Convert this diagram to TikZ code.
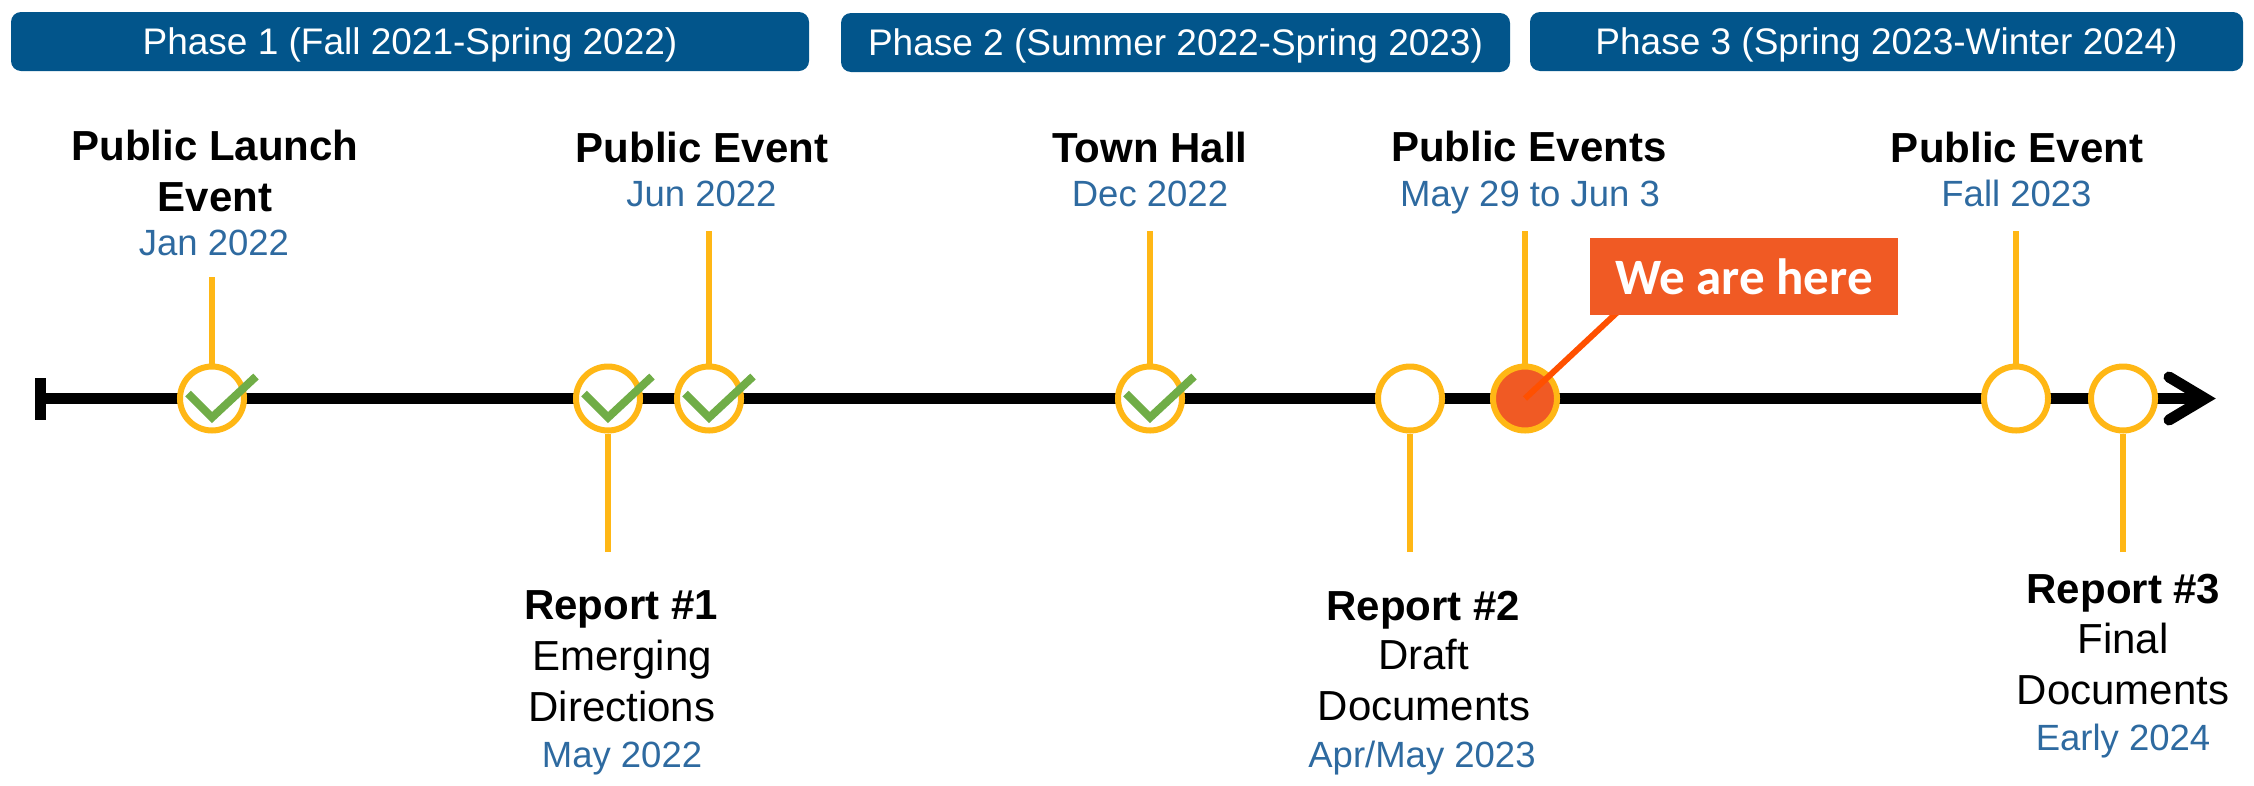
\documentclass[tikz,border=0pt]{standalone}
\usepackage{fontspec}
\setmainfont{Liberation Sans}
\newfontfamily\calibfont{Carlito}
\usetikzlibrary{calc}
\definecolor{phaseblue}{RGB}{2,85,139}
\definecolor{dateblue}{RGB}{46,106,160}
\definecolor{ringyellow}{RGB}{255,183,21}
\definecolor{checkgreen}{RGB}{112,173,71}
\definecolor{hereorange}{RGB}{240,90,36}
\definecolor{pointred}{RGB}{255,80,0}
\begin{document}
\begin{tikzpicture}[x=1pt,y=-1pt,
  phase/.style={fill=phaseblue, rounded corners=10pt, inner sep=0pt, text=white,
    font=\fontsize{37}{37}\selectfont, text height=26.5pt, text depth=0pt, minimum height=59pt},
  ttl/.style={anchor=base, inner sep=0pt, font=\fontsize{42}{42}\selectfont\bfseries},
  body/.style={anchor=base, inner sep=0pt, font=\fontsize{42}{42}\selectfont},
  date/.style={anchor=base, inner sep=0pt, text=dateblue, font=\fontsize{36.5}{36.5}\selectfont},
  mile/.style={circle, draw=ringyellow, line width=6pt, fill=white, minimum size=64pt, inner sep=0pt},
  stem/.style={draw=ringyellow, line width=5.5pt},
  tick/.style={draw=checkgreen, line width=8pt, line cap=butt, line join=miter},
  axis/.style={draw=black, line width=11pt},
]
\useasboundingbox (0,0) rectangle (2254,785);

% phase banners
\node[phase, minimum width=798pt] (p1) at (410,41.5) {Phase 1 (Fall 2021-Spring 2022)};
\node[phase, minimum width=669pt] (p2) at (1175.5,42.5) {Phase 2 (Summer 2022-Spring 2023)};
\node[phase, minimum width=713pt] (p3) at (1886.5,41.5) {Phase 3 (Spring 2023-Winter 2024)};

% time axis
\coordinate (tstart) at (40.5,398.5);
\coordinate (tend) at (2205,398.5);
\coordinate (bartop) at (40.5,378);
\coordinate (barbot) at (40.5,420);
\coordinate (headtop) at (2169,377);
\coordinate (headbot) at (2169,420);
\draw[axis] (tstart) -- (tend);
\draw[axis] (bartop) -- (barbot);
\draw[axis, line cap=round, line join=miter] (headtop) -- (tend) -- (headbot);

% milestones
\node[mile] (c1) at (212,398.5) {};
\node[mile] (c2) at (608,398.5) {};
\node[mile] (c3) at (709,398.5) {};
\node[mile] (c4) at (1150,398.5) {};
\node[mile] (c5) at (1410,398.5) {};
\node[mile, fill=hereorange] (c6) at (1525,398.5) {};
\node[mile] (c7) at (2016,398.5) {};
\node[mile] (c8) at (2123,398.5) {};

% stems
\coordinate (s1) at (212,277);
\coordinate (s2) at (608,552);
\coordinate (s3) at (709,231);
\coordinate (s4) at (1150,231);
\coordinate (s5) at (1410,552);
\coordinate (s6) at (1525,231);
\coordinate (s7) at (2016,231);
\coordinate (s8) at (2123,552);
\draw[stem] (s1) -- (c1.north);
\draw[stem] (s2) -- (c2.south);
\draw[stem] (s3) -- (c3.north);
\draw[stem] (s4) -- (c4.north);
\draw[stem] (s5) -- (c5.south);
\draw[stem] (s6) -- (c6.north);
\draw[stem] (s7) -- (c7.north);
\draw[stem] (s8) -- (c8.south);

% completed marks
\foreach \m in {c1,c2,c3,c4}
  \draw[tick] ($(\m)+(-24,-5)$) -- ($(\m)+(0,19)$) -- ($(\m)+(44,-22)$);

% current position call-out
\coordinate (wp) at (1624,306);
\draw[draw=pointred, line width=6pt] (c6.center) -- (wp);
\node[fill=hereorange, minimum width=308pt, minimum height=77pt, inner sep=0pt, text=white,
  font=\calibfont\bfseries\fontsize{51}{51}\selectfont, text height=35pt, text depth=0pt]
  (here) at (1744,276.5) {We are here};

% labels above the axis
\node[ttl] (t1a) at (215,160) {Public Launch};
\node[ttl] (t1b) at (215,211) {Event};
\node[date] (d1) at (214,255) {Jan 2022};
\node[ttl] (t3) at (702,162) {Public Event};
\node[date] (d3) at (701.5,206) {Jun 2022};
\node[ttl] (t4) at (1150,162) {Town Hall};
\node[date] (d4) at (1150,206) {Dec 2022};
\node[ttl] (t6) at (1529,161) {Public Events};
\node[date] (d6) at (1530,206) {May 29 to Jun 3};
\node[ttl] (t7) at (2017,162) {Public Event};
\node[date] (d7) at (2016.5,206) {Fall 2023};

% labels below the axis
\node[ttl] (r1) at (621,619) {Report \#1};
\node[body] (r1a) at (622,670) {Emerging};
\node[body] (r1b) at (622,721) {Directions};
\node[date] (r1d) at (622,767) {May 2022};
\node[ttl] (r2) at (1423.5,620) {Report \#2};
\node[body] (r2a) at (1423.5,669) {Draft};
\node[body] (r2b) at (1424,720) {Documents};
\node[date] (r2d) at (1422,767) {Apr/May 2023};
\node[ttl] (r3) at (2123.5,603) {Report \#3};
\node[body] (r3a) at (2123,653) {Final};
\node[body] (r3b) at (2123,704) {Documents};
\node[date] (r3d) at (2123,750) {Early 2024};
\end{tikzpicture}
\end{document}
